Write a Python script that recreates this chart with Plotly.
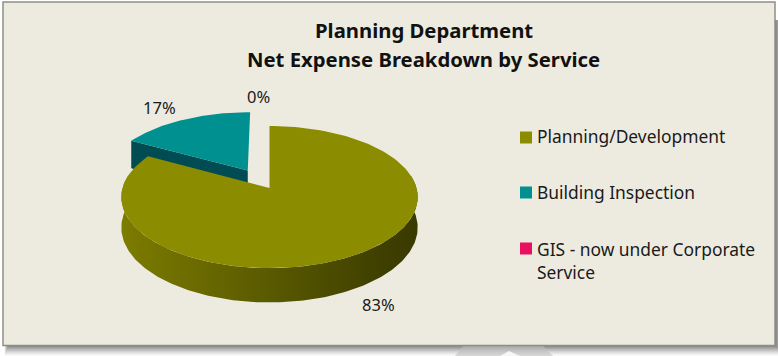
import numpy as np
import plotly.graph_objects as go

# Service shares of the department's net expense
categories = ["Planning/Development", "Building Inspection", "GIS - now under Corporate<br>Service"]
shares = [83, 17, 0]
slice_colors = ["#8C8C00", "#009090", "#EA1060"]
wall_colors = [None, "#004C52", None]
title_lines = ["Planning Department", "Net Expense Breakdown by Service"]

W, H = 778, 356
FONT = "Noto Sans"
TEXT = "#1a1a1a"

# Perspective disc: the projection is anchored at the centre of the largest slice
CX, CY = 269.5, 188.0
RX, RY = 147.0, 69.9
TILT = 0.127
THICK = 30.0
EXPLODE = 0.15


def project(u, v, z=0.0):
    w = 1 + TILT * v
    return CX + RX * u / w, CY - RY * v / w + THICK * z / w


edges = np.cumsum([0] + shares) / sum(shares) * 2 * np.pi
mids = (edges[:-1] + edges[1:]) / 2
bis = np.column_stack([np.sin(mids), np.cos(mids)])
offs = EXPLODE * (bis - bis[0])


def sector(i):
    t = np.linspace(edges[i], edges[i + 1], 160)
    return offs[i][0] + np.sin(t), offs[i][1] + np.cos(t)


fig = go.Figure()

# Outer wall of the large slice, shaded from left to right
t = np.radians(np.linspace(80, 280, 200))
u, v = np.sin(t) + offs[0][0], np.cos(t) + offs[0][1]
x1, y1 = project(u, v, 0)
x2, y2 = project(u, v, 1)
fig.add_trace(go.Scatter(
    x=np.r_[x1, x2[::-1]], y=np.r_[y1, y2[::-1]], mode="lines", line_width=0,
    fill="toself",
    fillgradient=dict(type="horizontal", colorscale=[
        [0, "#7C7C00"], [0.2, "#6E6E00"], [0.55, "#565600"], [0.88, "#3F3F00"], [1, "#3A3A00"]]),
    hoverinfo="skip",
))

# Cut face of the small slice, then its top
u1, v1 = sector(1)
ax, ay = offs[1]
tip = u1[0], v1[0]
xa, ya = project(ax, ay, 0)
xt, yt = project(*tip, 0)
xa2, ya2 = project(ax, ay, 1)
xt2, yt2 = project(*tip, 1)
fig.add_trace(go.Scatter(
    x=[xa, xt, xt2, xa2, xa], y=[ya, yt, yt2, ya2, ya], mode="lines", line_width=0,
    fill="toself", fillcolor=wall_colors[1], hoverinfo="skip"))
xs, ys = project(np.r_[ax, u1, ax], np.r_[ay, v1, ay], 0)
fig.add_trace(go.Scatter(x=xs, y=ys, mode="lines", line_width=0, fill="toself",
                         fillcolor=slice_colors[1], hoverinfo="skip"))

# Top of the large slice
u0, v0 = sector(0)
xs, ys = project(np.r_[0, u0, 0], np.r_[0, v0, 0], 0)
fig.add_trace(go.Scatter(x=xs, y=ys, mode="lines", line_width=0, fill="toself",
                         fillcolor=slice_colors[0], hoverinfo="skip"))

# Legend swatches
legend_x = 526
legend_y = [137.5, 192.5, 248.5]
fig.add_trace(go.Scatter(
    x=[legend_x] * 3, y=legend_y, mode="markers",
    marker=dict(symbol="square", size=12, color=slice_colors, line_width=0), hoverinfo="skip"))

notes = []
for name, y in zip(categories, [136, 192, 260]):
    notes.append(dict(x=535, y=y, text=name, xanchor="left", yanchor="middle", align="left",
                      font=dict(size=17.4, color=TEXT, family=FONT), showarrow=False))
for val, (x, y) in zip(shares, [(378, 304), (159, 107), (258, 96)]):
    notes.append(dict(x=x, y=y, text=f"{val}%", xanchor="center", yanchor="middle",
                      font=dict(size=16.5, color=TEXT, family=FONT), showarrow=False))
for line, y in zip(title_lines, [30, 59]):
    notes.append(dict(x=423.5, y=y, text=f"<b>{line}</b>", xanchor="center", yanchor="middle",
                      font=dict(size=20.3, color="#111111", family=FONT), showarrow=False))

# Panel with a soft shadow under its lower and right edges
shapes = []
for k, alpha in enumerate([0.03, 0.04, 0.05, 0.06, 0.07, 0.08, 0.09, 0.1, 0.12, 0.14, 0.16]):
    d = 11 - k
    shapes.append(dict(type="rect", layer="below", x0=8 - d / 3, x1=775 + min(d, 3), y0=20, y1=345 + d,
                       fillcolor=f"rgba(60,60,60,{alpha})", line_width=0))
# Pale wedge cutting through the shadow below the panel
shapes.append(dict(type="path", layer="below", path="M 455 356 L 463 346 L 543 346 L 553 356 Z",
                   fillcolor="rgba(190,190,190,0.6)", line_width=0))
shapes.append(dict(type="path", layer="below", path="M 500 356 L 509 351 L 520 356 Z",
                   fillcolor="#F6F6F6", line_width=0))
shapes.append(dict(type="rect", layer="below", x0=3, x1=775, y0=2, y1=345.5,
                   fillcolor="#EDEBE0", line=dict(color="#8E8E88", width=1.5)))

fig.update_layout(
    width=W, height=H, margin=dict(l=0, r=0, t=0, b=0),
    paper_bgcolor="white", plot_bgcolor="rgba(0,0,0,0)", showlegend=False,
    xaxis=dict(range=[0, W], visible=False, fixedrange=True),
    yaxis=dict(range=[H, 0], visible=False, fixedrange=True),
    annotations=notes, shapes=shapes,
)
fig.write_html("out.html", config={"displayModeBar": False})
